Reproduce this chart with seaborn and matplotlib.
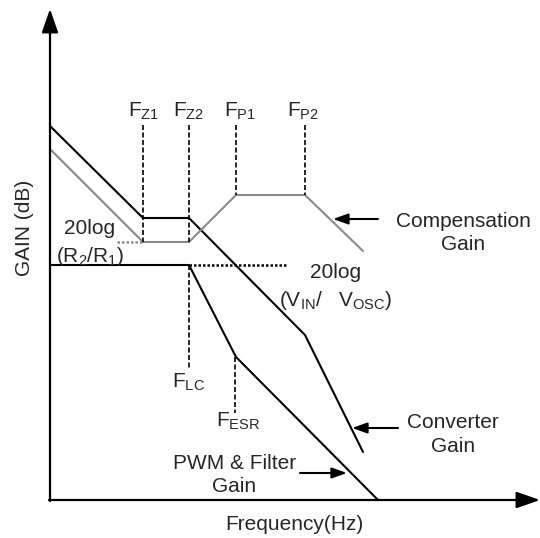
import matplotlib
matplotlib.use("Agg")
import matplotlib.pyplot as plt
import seaborn as sns
import pandas as pd

sns.set_style("white")
plt.rcParams['font.family'] = ['Liberation Sans', 'DejaVu Sans']
plt.rcParams['mathtext.fontset'] = 'custom'
plt.rcParams['mathtext.rm'] = 'Liberation Sans'
plt.rcParams['mathtext.it'] = 'Liberation Sans'
plt.rcParams['mathtext.default'] = 'regular'

# ---- data (frequency units -> x, gain units -> y) ----
conv_x = [0, 93, 139, 255, 313]
conv_y = [374, 282, 282, 165, 48]

comp_x = [0, 93, 139, 186, 255, 313]
comp_y = [351, 258, 258, 305, 305, 249]

pwm_x = [0, 139, 186, 328]
pwm_y = [235, 235, 143, 0]

r2r1_x = [67, 93]
r2r1_y = [258, 258]
vin_x = [139, 238]
vin_y = [235, 235]

# markers: label, x, y_top, y_bottom
mark_names = ["F$_{Z1}$", "F$_{Z2}$", "F$_{P1}$", "F$_{P2}$", "F$_{LC}$", "F$_{ESR}$"]
mark_x = [93, 139, 186, 255, 139, 185]
mark_top = [375, 375, 305 + 70, 375, 235, 143]
mark_bot = [258, 258, 305, 305, 130, 87]

fig = plt.figure(figsize=(5.40, 5.38), dpi=100)
ax = fig.add_axes([0, 0, 1, 1])
ax.set_xlim(-50, 490)
ax.set_ylim(-38, 500)
ax.axis("off")

gray = "#8a8a8a"
df_conv = pd.DataFrame({"x": conv_x, "y": conv_y})
df_comp = pd.DataFrame({"x": comp_x, "y": comp_y})
df_pwm = pd.DataFrame({"x": pwm_x, "y": pwm_y})
sns.lineplot(data=df_conv, x="x", y="y", sort=False, estimator=None, color="black", lw=1.5, ax=ax)
sns.lineplot(data=df_comp, x="x", y="y", sort=False, estimator=None, color=gray, lw=1.5, ax=ax)
sns.lineplot(data=df_pwm, x="x", y="y", sort=False, estimator=None, color="black", lw=1.5, ax=ax)

ax.plot(r2r1_x, r2r1_y, color=gray, lw=1.8, ls=(0, (1.0, 0.8)))
ax.plot(vin_x, vin_y, color="black", lw=1.8, ls=(0, (1.0, 0.8)))

for mx, t, b in zip(mark_x, mark_top, mark_bot):
    ax.plot([mx, mx], [t, b], color="black", lw=1.2, ls=(0, (3, 1.5)))

# axes arrows
ax.annotate("", xy=(0, 491), xytext=(0, -1),
            arrowprops=dict(arrowstyle="-|>,head_length=1.0,head_width=0.35",
                            mutation_scale=14.4, color="black", lw=1.6, shrinkA=0, shrinkB=0))
ax.annotate("", xy=(490, 0), xytext=(-1, 0),
            arrowprops=dict(arrowstyle="-|>,head_length=1.0,head_width=0.35",
                            mutation_scale=14.4, color="black", lw=1.6, shrinkA=0, shrinkB=0))

fs = 15
# marker labels
label_pos = [(78, 383), (123, 383), (174, 383), (237, 383), (122, 112), (166, 73)]
for name, (lx, ly) in zip(mark_names, label_pos):
    ax.text(lx, ly, name, fontsize=fs, ha="left", va="baseline")

ax.text(40, 272, "20log", fontsize=fs, ha="center", va="center")
ax.text(40, 244, "(R$_2$/R$_1$)", fontsize=fs, ha="center", va="center")
ax.text(286, 228, "20log", fontsize=fs, ha="center", va="center")
ax.text(286, 200, "(V$_{IN}$/   V$_{OSC}$)", fontsize=fs, ha="center", va="center")

ax.text(413, 267, "Compensation\nGain", fontsize=fs, ha="center", va="center",
        multialignment="center", linespacing=1.3)
ax.text(403, 65.5, "Converter\nGain", fontsize=fs, ha="center", va="center",
        multialignment="center", linespacing=1.3)
ax.text(184.5, 25, "PWM & Filter\nGain", fontsize=fs, ha="center", va="center",
        multialignment="center", linespacing=1.3)

small_arrow = dict(arrowstyle="-|>,head_length=0.9,head_width=0.32", mutation_scale=10,
                   color="black", lw=1.5, shrinkA=0, shrinkB=0)
ax.annotate("", xy=(283, 281), xytext=(328, 281), arrowprops=small_arrow)
ax.annotate("", xy=(302, 72), xytext=(348, 72), arrowprops=small_arrow)
ax.annotate("", xy=(297, 27), xytext=(250, 27), arrowprops=small_arrow)

ax.text(-26, 272, "GAIN (dB)", fontsize=fs, ha="center", va="center", rotation=90)
ax.text(244, -25, "Frequency(Hz)", fontsize=fs, ha="center", va="center")

fig.savefig("out.png", dpi=100)
